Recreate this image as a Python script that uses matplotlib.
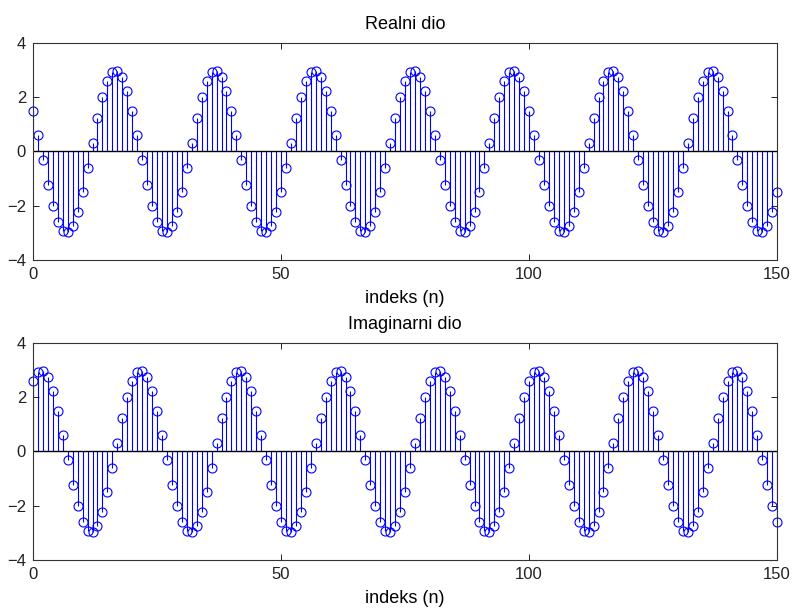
import matplotlib
matplotlib.use('Agg')
import matplotlib.pyplot as plt

plt.rcParams['font.family'] = ['Liberation Sans', 'DejaVu Sans']

# indices 0..150
n = list(range(151))

real_part = [
    1.50, 0.62, -0.31, -1.22, -2.01, -2.60, -2.93, -2.98, -2.74, -2.23, -1.50, -0.62, 0.31, 1.22, 2.01, 2.60, 2.93, 2.98, 2.74, 2.23,
    1.50, 0.62, -0.31, -1.22, -2.01, -2.60, -2.93, -2.98, -2.74, -2.23, -1.50, -0.62, 0.31, 1.22, 2.01, 2.60, 2.93, 2.98, 2.74, 2.23,
    1.50, 0.62, -0.31, -1.22, -2.01, -2.60, -2.93, -2.98, -2.74, -2.23, -1.50, -0.62, 0.31, 1.22, 2.01, 2.60, 2.93, 2.98, 2.74, 2.23,
    1.50, 0.62, -0.31, -1.22, -2.01, -2.60, -2.93, -2.98, -2.74, -2.23, -1.50, -0.62, 0.31, 1.22, 2.01, 2.60, 2.93, 2.98, 2.74, 2.23,
    1.50, 0.62, -0.31, -1.22, -2.01, -2.60, -2.93, -2.98, -2.74, -2.23, -1.50, -0.62, 0.31, 1.22, 2.01, 2.60, 2.93, 2.98, 2.74, 2.23,
    1.50, 0.62, -0.31, -1.22, -2.01, -2.60, -2.93, -2.98, -2.74, -2.23, -1.50, -0.62, 0.31, 1.22, 2.01, 2.60, 2.93, 2.98, 2.74, 2.23,
    1.50, 0.62, -0.31, -1.22, -2.01, -2.60, -2.93, -2.98, -2.74, -2.23, -1.50, -0.62, 0.31, 1.22, 2.01, 2.60, 2.93, 2.98, 2.74, 2.23,
    1.50, 0.62, -0.31, -1.22, -2.01, -2.60, -2.93, -2.98, -2.74, -2.23, -1.50,
]

imag_part = [
    2.60, 2.93, 2.98, 2.74, 2.23, 1.50, 0.62, -0.31, -1.22, -2.01, -2.60, -2.93, -2.98, -2.74, -2.23, -1.50, -0.62, 0.31, 1.22, 2.01,
    2.60, 2.93, 2.98, 2.74, 2.23, 1.50, 0.62, -0.31, -1.22, -2.01, -2.60, -2.93, -2.98, -2.74, -2.23, -1.50, -0.62, 0.31, 1.22, 2.01,
    2.60, 2.93, 2.98, 2.74, 2.23, 1.50, 0.62, -0.31, -1.22, -2.01, -2.60, -2.93, -2.98, -2.74, -2.23, -1.50, -0.62, 0.31, 1.22, 2.01,
    2.60, 2.93, 2.98, 2.74, 2.23, 1.50, 0.62, -0.31, -1.22, -2.01, -2.60, -2.93, -2.98, -2.74, -2.23, -1.50, -0.62, 0.31, 1.22, 2.01,
    2.60, 2.93, 2.98, 2.74, 2.23, 1.50, 0.62, -0.31, -1.22, -2.01, -2.60, -2.93, -2.98, -2.74, -2.23, -1.50, -0.62, 0.31, 1.22, 2.01,
    2.60, 2.93, 2.98, 2.74, 2.23, 1.50, 0.62, -0.31, -1.22, -2.01, -2.60, -2.93, -2.98, -2.74, -2.23, -1.50, -0.62, 0.31, 1.22, 2.01,
    2.60, 2.93, 2.98, 2.74, 2.23, 1.50, 0.62, -0.31, -1.22, -2.01, -2.60, -2.93, -2.98, -2.74, -2.23, -1.50, -0.62, 0.31, 1.22, 2.01,
    2.60, 2.93, 2.98, 2.74, 2.23, 1.50, 0.62, -0.31, -1.22, -2.01, -2.60,
]

titles = ['Realni dio', 'Imaginarni dio']
xticks = [0, 50, 100, 150]
yticks = [-4, -2, 0, 2, 4]

fig = plt.figure(figsize=(7.95, 6.1), dpi=100)
ax1 = fig.add_axes([0.0415, 0.5738, 0.936, 0.3557])
ax2 = fig.add_axes([0.0415, 0.082, 0.936, 0.3557])

for ax, y, title in zip([ax1, ax2], [real_part, imag_part], titles):
    markerline, stemlines, baseline = ax.stem(n, y, linefmt='-', markerfmt='o', basefmt='-')
    stemlines.set_color('#0000ff')
    stemlines.set_linewidth(0.8)
    markerline.set_markerfacecolor('none')
    markerline.set_markeredgecolor('#0000ff')
    markerline.set_markersize(6.5)
    markerline.set_markeredgewidth(0.8)
    markerline.set_clip_on(False)
    baseline.set_color('black')
    baseline.set_linewidth(1.0)
    ax.set_xlim(0, 150)
    ax.set_ylim(-4, 4)
    ax.set_xticks(xticks)
    ax.set_yticks(yticks)
    ax.tick_params(direction='in', top=True, right=True, length=4, width=0.7,
                   labelsize=12, colors='#222222', pad=5)
    for s in ax.spines.values():
        s.set_linewidth(0.8)
        s.set_color('#333333')
    ax.set_title(title, fontsize=13, pad=10)
    ax.set_xlabel('indeks (n)', fontsize=13, labelpad=6)

fig.savefig('out.png', dpi=100)
